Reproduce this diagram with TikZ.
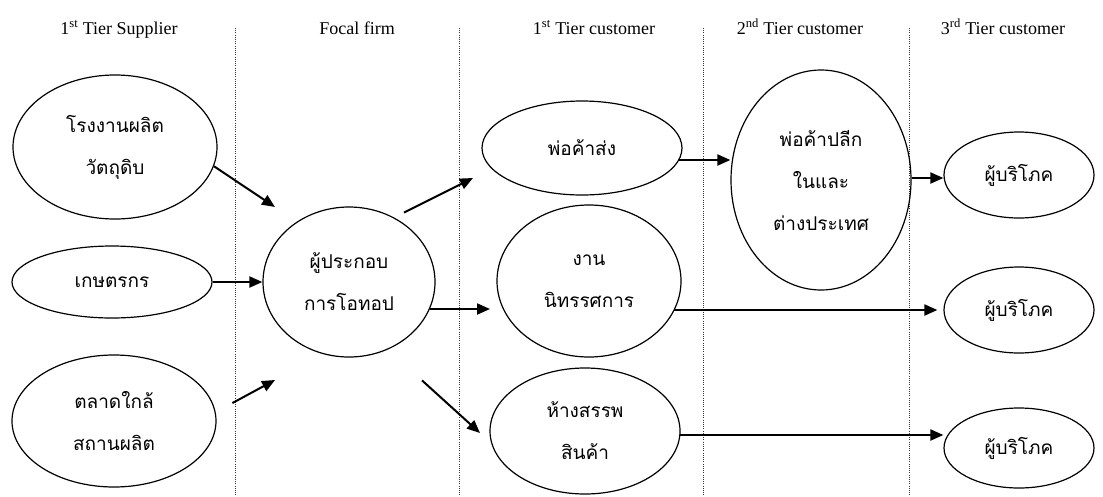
\documentclass[tikz,border=0pt]{standalone}
\usepackage{fontspec}
\setmainfont{Liberation Serif}
\newfontfamily\thaifont[Script=Thai]{Loma}
\usetikzlibrary{shapes.geometric,arrows.meta}
\begin{document}
\begin{tikzpicture}[x=1pt,y=-1pt,
  ell/.style={draw, ellipse, line width=1.2pt, inner sep=0pt,
    font=\thaifont\fontsize{19}{42}\selectfont, align=center},
  arr/.style={line width=2pt, -{Triangle[length=13pt,width=11pt]}},
  sep/.style={line width=0.9pt, dash pattern=on 1pt off 1.2pt, black!80},
  hdr/.style={anchor=base, font=\fontsize{18}{20}\selectfont, inner sep=0pt}]
\useasboundingbox (0,0) rectangle (1103,496);
% column separators
\foreach \x/\n in {235/s1,459/s2,703/s3,909/s4}{
  \coordinate (\n t) at (\x,28);
  \coordinate (\n b) at (\x,496);
  \draw[sep] (\n t) -- (\n b);
}
% headers
\node[hdr] (h1) at (119,34) {1\textsuperscript{st} Tier Supplier};
\node[hdr] (h2) at (357,34) {Focal firm};
\node[hdr] (h3) at (594,34) {1\textsuperscript{st} Tier customer};
\node[hdr] (h4) at (800,34) {2\textsuperscript{nd} Tier customer};
\node[hdr] (h5) at (1003,34) {3\textsuperscript{rd} Tier customer};
% ellipses
\node[ell, minimum width=204pt, minimum height=144pt] (a) at (115,147) {โรงงานผลิต\\วัตถุดิบ};
\node[ell, minimum width=200pt, minimum height=72pt] (b) at (112,282) {เกษตรกร};
\node[ell, minimum width=204pt, minimum height=132pt] (c) at (114,421) {ตลาดใกล้\\สถานผลิต};
\node[ell, minimum width=172pt, minimum height=150pt] (f) at (349,282) {ผู้ประกอบ\\การโอทอป};
\node[ell, minimum width=200pt, minimum height=94pt] (d) at (582,148) {พ่อค้าส่ง};
\node[ell, minimum width=184pt, minimum height=152pt] (e) at (589,281) {งาน\\นิทรรศการ};
\node[ell, minimum width=190pt, minimum height=126pt] (k) at (585,431) {ห้างสรรพ\\สินค้า};
\node[ell, minimum width=180pt, minimum height=220pt] (g) at (821,180) {พ่อค้าปลีก\\ในและ\\ต่างประเทศ};
\node[ell, minimum width=150pt, minimum height=86pt] (p1) at (1019,175) {ผู้บริโภค};
\node[ell, minimum width=150pt, minimum height=86pt] (p2) at (1019,310) {ผู้บริโภค};
\node[ell, minimum width=150pt, minimum height=80pt] (p3) at (1019,448) {ผู้บริโภค};
% arrow tips that stop short of an ellipse, and row levels
\coordinate (t1) at (275,207);
\coordinate (t3) at (275,380);
\coordinate (t4) at (473,178);
\coordinate (t5) at (490,309);
\coordinate (t6) at (480,433);
\coordinate (y1) at (0,160);
\coordinate (y2) at (0,310);
\coordinate (y3) at (0,435);
\coordinate (y4) at (0,178);
% arrows
\draw[arr] (a.-11) -- (t1);
\draw[arr] (b) -- (f);
\draw[arr, shorten <=19pt] (c.5) -- (t3);
\draw[arr, shorten <=11pt] (f.55) -- (t4);
\draw[arr] (f.-18 |- t5) -- (t5);
\draw[arr, shorten <=46pt] (f.-60) -- (t6);
\draw[arr] (d.-7 |- y1) -- (y1 -| g.west);
\draw[arr] (g.east |- y4) -- (y4 -| p1.west);
\draw[arr, shorten >=6pt] (e.-19 |- y2) -- (y2 -| p2.west);
\draw[arr] (k.-3 |- y3) -- (y3 -| p3.west);
\end{tikzpicture}
\end{document}
